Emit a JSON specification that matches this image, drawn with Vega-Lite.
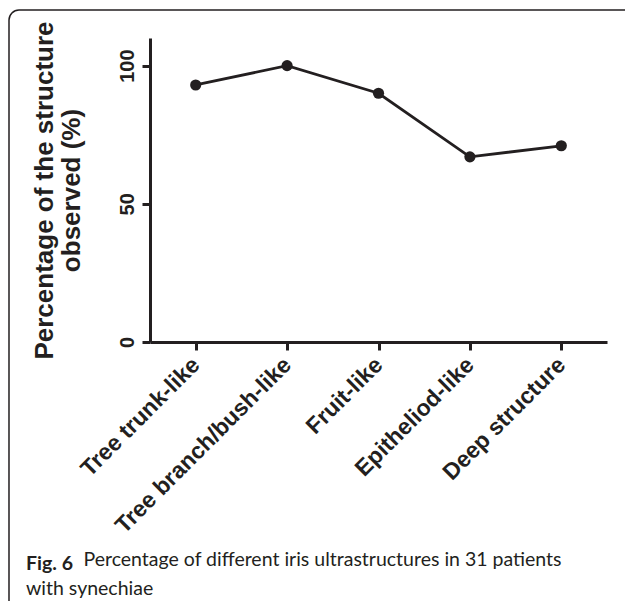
{
  "$schema": "https://vega.github.io/schema/vega-lite/v6.json",
  "autosize": "none",
  "width": 640,
  "height": 620,
  "padding": {"left": 9, "top": 10, "right": -24, "bottom": -29},
  "background": "white",
  "config": {
    "view": {"stroke": "#231f20", "strokeWidth": 1.5, "cornerRadius": 10, "fill": "white"}
  },
  "title": {
    "text": "Fig. 6",
    "subtitle": "with synechiae",
    "orient": "bottom",
    "anchor": "start",
    "frame": "group",
    "font": "Lato",
    "fontSize": 19.5,
    "fontWeight": "bold",
    "color": "#231f20",
    "subtitleFont": "Lato",
    "subtitleFontSize": 19.5,
    "subtitleFontWeight": "normal",
    "subtitleColor": "#231f20",
    "subtitlePadding": 5,
    "dx": 17,
    "dy": -79
  },
  "data": {
    "values": [
      {"structure": "Tree trunk-like", "pct": 93},
      {"structure": "Tree branch/bush-like", "pct": 100},
      {"structure": "Fruit-like", "pct": 90},
      {"structure": "Epitheliod-like", "pct": 67},
      {"structure": "Deep structure", "pct": 71}
    ]
  },
  "mark": {
    "type": "line",
    "color": "#231f20",
    "strokeWidth": 2.8,
    "point": {"filled": true, "size": 125, "color": "#231f20", "opacity": 1}
  },
  "encoding": {
    "x": {
      "field": "structure",
      "type": "nominal",
      "sort": null,
      "scale": {"type": "point", "padding": 0.5, "range": [141, 598]},
      "axis": {
        "orient": "bottom",
        "offset": -288,
        "grid": false,
        "domainColor": "#231f20",
        "domainWidth": 3,
        "tickColor": "#231f20",
        "tickWidth": 3,
        "tickSize": 8,
        "labelAngle": -45,
        "labelAlign": "right",
        "labelBaseline": "middle",
        "labelPadding": 11,
        "labelFont": "Liberation Sans",
        "labelFontWeight": "bold",
        "labelFontSize": 23,
        "labelColor": "#231f20",
        "labelLimit": 400,
        "labelOverlap": false,
        "title": "Percentage of different iris ultrastructures in 31 patients",
        "titleFont": "Lato",
        "titleFontSize": 19.5,
        "titleFontWeight": "normal",
        "titleColor": "#231f20",
        "titleAngle": 0,
        "titleAlign": "left",
        "titleBaseline": "alphabetic",
        "titleX": 74,
        "titleY": 223
      }
    },
    "y": {
      "field": "pct",
      "type": "quantitative",
      "scale": {"domain": [0, 110], "range": [332, 28], "nice": false, "zero": true},
      "axis": {
        "orient": "left",
        "offset": -141,
        "grid": false,
        "values": [0, 50, 100],
        "domainColor": "#231f20",
        "domainWidth": 3,
        "tickColor": "#231f20",
        "tickWidth": 3,
        "tickSize": 8,
        "labelAngle": -90,
        "labelAlign": "center",
        "labelBaseline": "alphabetic",
        "labelPadding": 9,
        "labelFont": "Liberation Sans",
        "labelFontWeight": "bold",
        "labelFontSize": 20,
        "labelColor": "#231f20",
        "title": ["Percentage of the structure", "observed (%)"],
        "titleFont": "Liberation Sans",
        "titleFontSize": 26,
        "titleFontWeight": "bold",
        "titleColor": "#231f20",
        "titleAngle": -90,
        "titleAlign": "center",
        "titleBaseline": "alphabetic",
        "titleLineHeight": 27,
        "titleX": -98,
        "titleY": 180
      }
    }
  }
}
